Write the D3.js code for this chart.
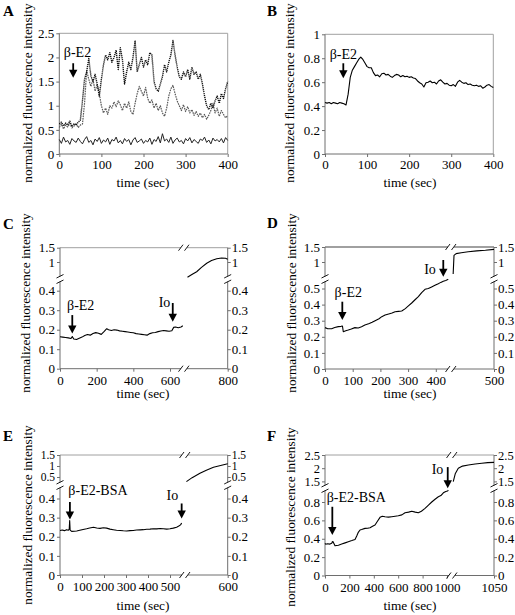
<!DOCTYPE html>
<html><head><meta charset="utf-8">
<script src="https://cdn.jsdelivr.net/npm/d3@7"></script>
<style>body{margin:0;background:#fff}svg{display:block}svg text{font-family:"Liberation Serif","Times New Roman",Times,serif}</style>
</head><body>
<svg id="c" width="515" height="615"></svg>
<script>
// ---------- DATA ----------
const timeAB = [0,5,10,15,20,25,30,35,40,45,50,55,60,65,70,75,80,85,90,95,100,105,110,115,120,125,130,135,140,145,150,155,160,165,170,175,180,185,190,195,200,205,210,215,220,225,230,235,240,245,250,255,260,265,270,275,280,285,290,295,300,305,310,315,320,325,330,335,340,345,350,355,360,365,370,375,380,385,390,395,400];
const aCell1 = [0.30,0.22,0.35,0.25,0.28,0.20,0.32,0.27,0.24,0.33,0.26,0.21,0.30,0.36,0.24,0.28,0.19,0.31,0.26,0.34,0.22,0.29,0.25,0.33,0.20,0.30,0.27,0.35,0.23,0.28,0.21,0.32,0.26,0.30,0.19,0.29,0.34,0.24,0.27,0.31,0.22,0.28,0.25,0.33,0.20,0.30,0.26,0.36,0.23,0.42,0.27,0.31,0.24,0.35,0.22,0.29,0.33,0.25,0.28,0.21,0.32,0.27,0.34,0.23,0.30,0.26,0.22,0.31,0.28,0.35,0.24,0.29,0.21,0.33,0.27,0.30,0.25,0.32,0.23,0.34,0.28];
const aCell2 = [0.62,0.66,0.58,0.64,0.60,0.68,0.57,0.63,0.60,0.66,0.70,1.10,1.55,1.70,1.98,1.62,1.50,1.65,1.45,1.20,1.55,1.85,2.05,1.95,2.10,1.90,2.00,2.15,1.75,2.20,1.95,1.45,1.70,1.90,1.75,2.00,2.35,1.70,1.85,2.00,1.80,1.95,1.85,2.10,2.05,1.50,1.35,1.30,1.45,1.60,1.85,1.70,1.90,2.05,2.35,2.05,1.80,1.60,1.55,1.70,1.60,1.75,1.55,1.80,1.65,1.70,1.55,1.65,1.45,1.20,1.00,0.92,1.05,0.95,1.10,1.20,1.05,1.25,1.15,1.35,1.50];
const aCell3 = [0.55,0.62,0.52,0.60,0.56,0.63,0.54,0.58,0.62,0.55,0.60,0.62,1.05,1.72,1.55,1.40,1.55,1.30,1.45,1.25,1.00,0.85,0.95,0.82,1.00,0.95,1.08,0.98,1.10,1.02,0.90,1.05,0.95,1.08,0.88,0.82,1.05,1.25,1.40,1.30,1.20,1.38,1.15,1.05,1.12,0.95,1.05,0.90,1.00,0.85,0.78,0.95,1.20,1.35,1.42,1.25,1.10,1.00,0.90,1.02,0.88,0.98,0.85,0.92,0.80,0.88,0.78,0.85,0.75,0.82,0.72,0.80,0.90,1.05,0.85,0.95,0.78,0.90,0.82,0.75,0.80];
const valB = [0.430,0.425,0.430,0.420,0.430,0.425,0.420,0.430,0.425,0.420,0.410,0.500,0.640,0.700,0.730,0.760,0.790,0.810,0.790,0.760,0.730,0.720,0.720,0.680,0.655,0.660,0.645,0.670,0.675,0.660,0.665,0.650,0.640,0.655,0.665,0.660,0.645,0.655,0.645,0.650,0.640,0.645,0.635,0.630,0.610,0.595,0.585,0.560,0.595,0.600,0.610,0.595,0.600,0.585,0.610,0.620,0.600,0.585,0.590,0.575,0.570,0.580,0.565,0.600,0.615,0.600,0.590,0.595,0.580,0.585,0.575,0.570,0.575,0.565,0.570,0.550,0.560,0.575,0.580,0.565,0.555];

const timeC = [0,15,30,45,60,67,75,90,105,120,135,150,165,180,195,210,225,240,255,265,280,295,310,325,340,355,370,385,400,415,430,445,460,475,490,505,520,535,550,565,580,595,610,620,630,645,660,670];
const valC  = [0.164,0.162,0.160,0.158,0.155,0.165,0.152,0.150,0.156,0.162,0.170,0.175,0.172,0.180,0.185,0.182,0.176,0.190,0.205,0.200,0.196,0.200,0.198,0.194,0.192,0.190,0.188,0.186,0.184,0.180,0.178,0.176,0.174,0.172,0.180,0.184,0.186,0.190,0.193,0.196,0.194,0.192,0.195,0.212,0.214,0.210,0.214,0.220];
const timeC2 = [708,718,729,740,752,763,775,786,795,800];
const valC2  = [0.465,0.56,0.66,0.81,0.955,1.05,1.115,1.14,1.13,1.095];

const timeD = [0,10,24,35,48,58,63,66,75,84,95,108,120,132,144,160,170,181,195,205,217,230,242,253,265,277,290,300,313,325,337,349,361,373,385,397,409,418,427,436,445];
const valD  = [0.257,0.250,0.250,0.258,0.263,0.265,0.267,0.232,0.238,0.242,0.248,0.257,0.255,0.262,0.273,0.282,0.290,0.300,0.312,0.325,0.335,0.342,0.348,0.356,0.358,0.360,0.375,0.390,0.410,0.430,0.450,0.475,0.495,0.500,0.510,0.520,0.530,0.538,0.545,0.550,0.557];
const timeD2 = [452.5,453.5,456,462,470,480,490,500];
const valD2  = [0.60,1.22,1.28,1.31,1.34,1.37,1.39,1.42];

const timeE = [0,10,20,30,38,42,44,46,53,65,76,90,105,121,135,152,167,182,197,212,227,242,257,273,288,303,318,333,348,364,379,394,409,424,440,455,470,485,500,515,530,540,548,553];
const valE  = [0.233,0.235,0.232,0.237,0.234,0.240,0.285,0.235,0.228,0.229,0.230,0.234,0.238,0.242,0.246,0.250,0.246,0.244,0.247,0.245,0.240,0.237,0.234,0.233,0.231,0.230,0.232,0.233,0.235,0.236,0.237,0.239,0.240,0.242,0.241,0.243,0.242,0.240,0.242,0.245,0.250,0.256,0.262,0.272];
const timeE2 = [571,575,580.5,585,590,595,599.3,600];
const valE2  = [0.29,0.47,0.67,0.81,0.94,1.02,1.09,1.10];

const timeF = [0,6,20,41,55,60,65,82,110,137,165,191,220,246,260,273,287,300,328,350,369,390,410,430,451,470,492,520,547,575,601,630,656,685,711,740,765,790,820,848,875,902,929,950,970,990,1005,1011];
const valF  = [0.350,0.340,0.345,0.342,0.350,0.367,0.370,0.324,0.330,0.342,0.355,0.367,0.380,0.393,0.430,0.470,0.495,0.500,0.513,0.515,0.520,0.535,0.549,0.590,0.633,0.645,0.640,0.635,0.640,0.645,0.650,0.660,0.683,0.690,0.700,0.690,0.683,0.700,0.730,0.765,0.800,0.830,0.857,0.870,0.900,0.915,0.920,0.930];
const timeF2 = [1040.3,1040.8,1041.5,1042.5,1043.9,1045.5,1047.1,1048.5,1050];
const valF2  = [1.49,1.80,2.00,2.08,2.12,2.16,2.19,2.21,2.22];

const ticksA_x = [0,100,200,300,400], ticksA_y = [0,0.5,1,1.5,2,2.5];
const ticksB_y = [0,0.2,0.4,0.6,0.8,1];
const ticksC_x = [0,200,400,600], ticksC_x2 = [800], ticksC_y = [0,0.1,0.2,0.3,0.4], ticksC_y2 = [1,1.5];
const ticksD_x = [0,100,200,300,400], ticksD_x2 = [500], ticksD_y = [0,0.1,0.2,0.3,0.4,0.5], ticksD_y2 = [1,1.5];
const ticksE_x = [0,100,200,300,400,500], ticksE_x2 = [600], ticksE_y = [0,0.1,0.2,0.3,0.4], ticksE_y2 = [0.5,1,1.5];
const ticksF_x = [0,200,400,600,800,1000], ticksF_x2 = [1050], ticksF_y = [0,0.2,0.4,0.6,0.8], ticksF_y2 = [1.5,2,2.5];

// ---------- DRAWING ----------
const svg = d3.select("#c");
const AXIS = "#6e6e6e", FRAME = "#a0a0a0";
const fmt = d => String(d);

function styleAx(g, size){
  g.attr("font-family", null).attr("font-size", size || 13);
  g.select(".domain").remove();
  g.selectAll(".tick line").attr("stroke", AXIS);
  g.selectAll(".tick text").attr("fill", "#000");
}
function ln(g,x1,y1,x2,y2,col,w){
  return g.append("line").attr("x1",x1).attr("y1",y1).attr("x2",x2).attr("y2",y2)
    .attr("stroke",col).attr("stroke-width",w||1);
}
function series(g, xs, ys, ts, vs, st){
  st = st || {};
  const data = ts.map((t,i)=>({t, v: vs[i]}));
  g.append("path").datum(data).attr("fill","none")
    .attr("stroke", st.color || "#000").attr("stroke-width", st.width || 1.1)
    .attr("stroke-dasharray", st.dash || null).attr("stroke-linejoin","round")
    .attr("d", d3.line().x(d=>xs(d.t)).y(d=>ys(d.v)));
}
function arrow(g, x, y1, y2){
  const h = 8;
  ln(g, x, y1, x, y2-h+1, "#000", 1.8);
  g.append("path").attr("d", `M${x-4.2},${y2-h}L${x+4.2},${y2-h}L${x},${y2}Z`).attr("fill","#000");
}
function label(g, x, y, txt, anchor, size){
  g.append("text").attr("x",x).attr("y",y).attr("text-anchor",anchor||"middle")
    .attr("font-size",size||14).attr("fill","#000").text(txt);
}
function breakH(g, x, y){
  g.append("rect").attr("x",x-3).attr("y",y-1.5).attr("width",6).attr("height",3).attr("fill","#fff");
  ln(g, x-5.5, y+3, x-1, y-3, "#000", 0.9);
  ln(g, x+0.5, y+3, x+5, y-3, "#000", 0.9);
}
function breakV(g, x, y){
  g.append("rect").attr("x",x-1.5).attr("y",y-2.5).attr("width",3).attr("height",5).attr("fill","#fff");
  ln(g, x-3.5, y-1, x+3.5, y-4.5, "#000", 0.9);
  ln(g, x-3.5, y+4.5, x+3.5, y+1, "#000", 0.9);
}
function titles(g, c){
  g.append("text").attr("x",c.lx).attr("y",c.ly).attr("font-size",15)
    .attr("font-weight","bold").text(c.letter);
  g.append("text").attr("transform",`translate(${c.yx},${c.yy}) rotate(-90)`).attr("dy","0.35em")
    .attr("text-anchor","middle").attr("font-size",13.3)
    .text("normalized fluorescence intensity");
  g.append("text").attr("x",c.tx).attr("y",c.ty).attr("text-anchor","middle")
    .attr("font-size",13.3).text("time (sec)");
}

function simplePanel(c){
  const g = svg.append("g");
  const x = d3.scaleLinear().domain(c.xDom).range([c.left, c.right]);
  const y = d3.scaleLinear().domain(c.yDom).range([c.bottom, c.top]);
  ln(g, c.left, c.top, c.right, c.top, FRAME);
  ln(g, c.right, c.top, c.right, c.bottom, FRAME);
  ln(g, c.left, c.top, c.left, c.bottom, AXIS);
  ln(g, c.left, c.bottom, c.right, c.bottom, AXIS);
  g.append("g").attr("transform",`translate(${c.left},0)`)
    .call(d3.axisLeft(y).tickValues(c.yTicks).tickSize(3).tickPadding(2).tickFormat(fmt)).call(styleAx);
  g.append("g").attr("transform",`translate(0,${c.bottom})`)
    .call(d3.axisBottom(x).tickValues(c.xTicks).tickSize(3).tickPadding(3).tickFormat(fmt)).call(styleAx);
  c.series.forEach(s => series(g, x, y, s.t, s.v, s.style));
  c.arrows.forEach(a => arrow(g, x(a.t), y(a.v1), y(a.v2)));
  c.labels.forEach(l => label(g, x(l.t), y(l.v), l.text, l.anchor));
  titles(g, c);
}

function brokenPanel(c){
  const g = svg.append("g");
  const xLo = d3.scaleLinear().domain(c.xLoDom).range(c.xLoRange);
  const xHi = d3.scaleLinear().domain(c.xHiDom).range([c.xBreak, c.right]);
  const yLo = d3.scaleLinear().domain(c.yLoDom).range(c.yLoRange);
  const yHi = d3.scaleLinear().domain(c.yHiDom).range(c.yHiRange);
  ln(g, c.left, c.top, c.right, c.top, FRAME, c.topW || 1);
  ln(g, c.left, c.top, c.left, c.bottom, AXIS);
  ln(g, c.right, c.top, c.right, c.bottom, AXIS);
  ln(g, c.left, c.bottom, c.right, c.bottom, AXIS);
  const L = d3.axisLeft, R = d3.axisRight;
  [[yLo,c.yLoTicks,13],[yHi,c.yHiTicks,c.hiTickSize || 13]].forEach(([s,t,fs])=>{
    g.append("g").attr("transform",`translate(${c.left},0)`)
      .call(L(s).tickValues(t).tickSize(3).tickPadding(2).tickFormat(fmt)).call(styleAx, fs);
    g.append("g").attr("transform",`translate(${c.right},0)`)
      .call(R(s).tickValues(t).tickSize(3).tickPadding(1).tickFormat(fmt)).call(styleAx, fs);
  });
  [[xLo,c.xLoTicks],[xHi,c.xHiTicks]].forEach(([s,t])=>{
    g.append("g").attr("transform",`translate(0,${c.bottom})`)
      .call(d3.axisBottom(s).tickValues(t).tickSize(3).tickPadding(4).tickFormat(fmt)).call(styleAx);
  });
  series(g, xLo, yLo, c.lowT, c.lowV);
  series(g, xHi, yHi, c.hiT, c.hiV);
  breakV(g, c.left, c.yBreak); breakV(g, c.right, c.yBreak);
  breakH(g, c.xBreak, c.bottom); breakH(g, c.xBreak, c.top);
  c.arrows.forEach(a => arrow(g, xLo(a.t), yLo(a.v1), yLo(a.v2)));
  c.labels.forEach(l => label(g, xLo(l.t), yLo(l.v), l.text, l.anchor));
  titles(g, c);
}

simplePanel({letter:"A", lx:3, ly:16, yx:27.5, yy:93, tx:143, ty:187,
  left:59.3, right:227.7, top:33.3, bottom:154, xDom:[0,400], yDom:[0,2.5],
  xTicks:ticksA_x, yTicks:ticksA_y,
  series:[
    {t:timeAB, v:aCell3, style:{color:"#5a5a5a", width:1.2, dash:"1.6 0.9"}},
    {t:timeAB, v:aCell2, style:{color:"#111", width:1.4, dash:"1.2 0.8"}},
    {t:timeAB, v:aCell1, style:{color:"#222", width:1}}
  ],
  arrows:[{t:33, v1:1.88, v2:1.58}],
  labels:[{text:"β-E2", t:43.2, v:2.0}]
});

simplePanel({letter:"B", lx:267, ly:16, yx:289, yy:93, tx:410, ty:187,
  left:325, right:493.3, top:34.3, bottom:154, xDom:[0,400], yDom:[0,1],
  xTicks:ticksA_x, yTicks:ticksB_y,
  series:[{t:timeAB, v:valB, style:{color:"#000", width:1.1}}],
  arrows:[{t:43.5, v1:0.758, v2:0.632}],
  labels:[{text:"β-E2", t:43.5, v:0.794}]
});

brokenPanel({letter:"C", lx:3, ly:229, yx:25, yy:303, tx:143, ty:398,
  left:60, right:227.7, top:247.7, bottom:368.7,
  xLoDom:[0,600], xLoRange:[60,170], xBreak:184, xHiDom:[700,800],
  yLoDom:[0,0.4], yLoRange:[368.7,290.7], yBreak:279, yHiDom:[1,1.5], yHiRange:[262,247.7],
  xLoTicks:ticksC_x, xHiTicks:ticksC_x2, yLoTicks:ticksC_y, yHiTicks:ticksC_y2,
  lowT:timeC, lowV:valC, hiT:timeC2, hiV:valC2,
  arrows:[{t:67, v1:0.275, v2:0.18},{t:615, v1:0.337, v2:0.241}],
  labels:[{text:"β-E2", t:113, v:0.30},{text:"Io", t:570, v:0.315}]
});

brokenPanel({letter:"D", lx:267, ly:228, yx:291, yy:303, tx:410, ty:398,
  left:325, right:494, top:247, bottom:369, topW:2,
  xLoDom:[0,400], xLoRange:[325,435.8], xBreak:451, xHiDom:[450,500],
  yLoDom:[0,0.5], yLoRange:[369,288.5], yBreak:279, yHiDom:[1,1.5], yHiRange:[262,247],
  xLoTicks:ticksD_x, xHiTicks:ticksD_x2, yLoTicks:ticksD_y, yHiTicks:ticksD_y2,
  lowT:timeD, lowV:valD, hiT:timeD2, hiV:valD2,
  arrows:[{t:62.5, v1:0.418, v2:0.304},{t:427, v1:0.677, v2:0.573}],
  labels:[{text:"β-E2", t:84, v:0.449},{text:"Io", t:379, v:0.59}]
});

brokenPanel({letter:"E", lx:3, ly:441, yx:27.5, yy:515, tx:143, ty:610,
  left:60, right:227.7, top:455, bottom:575, hiTickSize:11.5,
  xLoDom:[0,500], xLoRange:[60,170], xBreak:185, xHiDom:[570,600],
  yLoDom:[0,0.4], yLoRange:[575,498.5], yBreak:485, yHiDom:[0.5,1.5], yHiRange:[477,455],
  xLoTicks:ticksE_x, xHiTicks:ticksE_x2, yLoTicks:ticksE_y, yHiTicks:ticksE_y2,
  lowT:timeE, lowV:valE, hiT:timeE2, hiV:valE2,
  arrows:[{t:45, v1:0.382, v2:0.29},{t:553, v1:0.374, v2:0.295}],
  labels:[{text:"β-E2-BSA", t:38, v:0.417, anchor:"start"},{text:"Io", t:511, v:0.39}]
});

brokenPanel({letter:"F", lx:267, ly:441, yx:290, yy:517, tx:410, ty:610,
  left:325, right:494, top:455, bottom:575.5, hiTickSize:12.5,
  xLoDom:[0,1000], xLoRange:[325,447], xBreak:452, xHiDom:[1040,1050],
  yLoDom:[0,0.8], yLoRange:[575.5,502], yBreak:488, yHiDom:[1.5,2.5], yHiRange:[481.4,455],
  xLoTicks:ticksF_x, xHiTicks:ticksF_x2, yLoTicks:ticksF_y, yHiTicks:ticksF_y2,
  lowT:timeF, lowV:valF, hiT:timeF2, hiV:valF2,
  arrows:[{t:60, v1:0.748, v2:0.44},{t:1006, v1:1.18, v2:0.95}],
  labels:[{text:"β-E2-BSA", t:14, v:0.80, anchor:"start"},{text:"Io", t:922, v:1.10}]
});
</script>
</body></html>
